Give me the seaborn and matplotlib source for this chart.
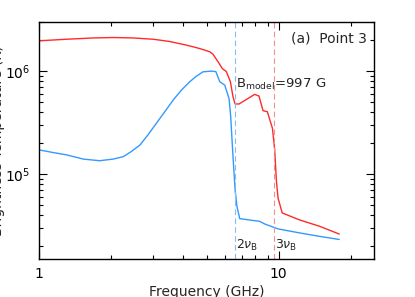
import matplotlib
matplotlib.use("Agg")
import matplotlib.pyplot as plt
from matplotlib import ticker
import seaborn as sns
import numpy as np
import pandas as pd

# Frequency (GHz) and brightness temperature (K)
freq_x = [1.0, 1.30, 1.68, 2.04, 2.47, 3.0, 3.51, 4.12, 4.54, 4.84, 5.16, 5.32,
          5.59, 5.82, 6.05, 6.29, 6.45, 6.58, 6.84, 7.33, 7.94, 8.28, 8.61,
          8.97, 9.42, 9.63, 9.78, 9.94, 10.35, 12.2, 14.8, 17.9]
tb_x = [1.97e6, 2.04e6, 2.10e6, 2.12e6, 2.10e6, 2.04e6, 1.94e6, 1.79e6, 1.69e6,
        1.62e6, 1.54e6, 1.46e6, 1.23e6, 1.06e6, 9.9e5, 7.9e5, 5.65e5, 4.8e5,
        4.8e5, 5.3e5, 5.95e5, 5.73e5, 4.13e5, 4.04e5, 2.79e5, 1.72e5, 8.8e4,
        5.87e4, 4.2e4, 3.6e4, 3.12e4, 2.62e4]

freq_o = [1.0, 1.147, 1.30, 1.53, 1.79, 2.04, 2.25, 2.43, 2.64, 2.85, 3.09, 3.35,
          3.63, 3.93, 4.26, 4.54, 4.84, 5.24, 5.47, 5.68, 5.96, 6.21, 6.31,
          6.45, 6.58, 6.70, 6.88, 8.33, 8.75, 9.94, 12.2, 14.8, 17.9]
tb_o = [1.72e5, 1.62e5, 1.54e5, 1.40e5, 1.35e5, 1.40e5, 1.48e5, 1.66e5, 1.92e5,
        2.41e5, 3.12e5, 4.04e5, 5.24e5, 6.55e5, 7.9e5, 8.95e5, 9.86e5, 1.0e6,
        9.9e5, 7.9e5, 7.3e5, 5.4e5, 3.6e5, 1.48e5, 7.05e4, 4.86e4, 3.7e4,
        3.48e4, 3.28e4, 2.94e4, 2.69e4, 2.49e4, 2.32e4]

harmonics = [6.6, 9.55]
harmonic_labels = [r'$2\nu_{\rm B}$', r'$3\nu_{\rm B}$']

df_x = pd.DataFrame({'freq': freq_x, 'tb': tb_x})
df_o = pd.DataFrame({'freq': freq_o, 'tb': tb_o})

sns.set_style("ticks")
plt.rcParams['font.family'] = ['DejaVu Sans']
plt.rcParams['mathtext.fontset'] = 'dejavusans'

fig = plt.figure(figsize=(4.15, 2.97), dpi=100)
ax = fig.add_axes([39 / 415, 1 - 259 / 297, 335 / 415, 237 / 297])

sns.lineplot(data=df_x, x='freq', y='tb', color='#ff2a2a', lw=1.0, ax=ax)
sns.lineplot(data=df_o, x='freq', y='tb', color='#3399ff', lw=1.0, ax=ax)

ax.axvline(harmonics[0], color='#88bbf0', lw=0.8, ls=(0, (5, 3)))
ax.axvline(harmonics[1], color='#f09090', lw=0.8, ls=(0, (5, 3)))

ax.set_xscale('log')
ax.set_yscale('log')
ax.set_xlim(1, 25)
ax.set_ylim(1.5e4, 3e6)

ax.xaxis.set_major_locator(ticker.FixedLocator([1, 10]))
ax.xaxis.set_major_formatter(ticker.FixedFormatter(['1', '10']))
ax.xaxis.set_minor_locator(ticker.LogLocator(base=10, subs=np.arange(2, 10)))
ax.xaxis.set_minor_formatter(ticker.NullFormatter())
ax.yaxis.set_major_locator(ticker.LogLocator(base=10))
ax.yaxis.set_major_formatter(ticker.LogFormatterSciNotation())
ax.yaxis.set_minor_locator(ticker.LogLocator(base=10, subs=np.arange(2, 10)))
ax.yaxis.set_minor_formatter(ticker.NullFormatter())

ax.tick_params(which='both', direction='in', top=True, right=True,
               labelsize=10, colors='black', width=0.8)
ax.tick_params(which='major', length=6, pad=6)
ax.tick_params(which='minor', length=3)
for s in ax.spines.values():
    s.set_linewidth(1.0)
    s.set_color('black')

ax.set_xlabel('Frequency (GHz)', fontsize=10)
ax.xaxis.set_label_coords(0.5, -0.11)
ax.set_ylabel('Brightness Temperature (K)', fontsize=10)
ax.yaxis.set_label_coords(-0.1, 0.5)

ax.text(0.98, 0.93, '(a)  Point 3', transform=ax.transAxes,
        ha='right', va='center', fontsize=10)
ax.text(harmonics[0] * 1.01, 7.5e5, r'B$_{\rm model}$=997 G',
        ha='left', va='center', fontsize=9.5)
for h, lab in zip(harmonics, harmonic_labels):
    ax.text(h * 1.01, 2.05e4, lab, ha='left', va='center', fontsize=9)

fig.savefig('out.png', dpi=100)
